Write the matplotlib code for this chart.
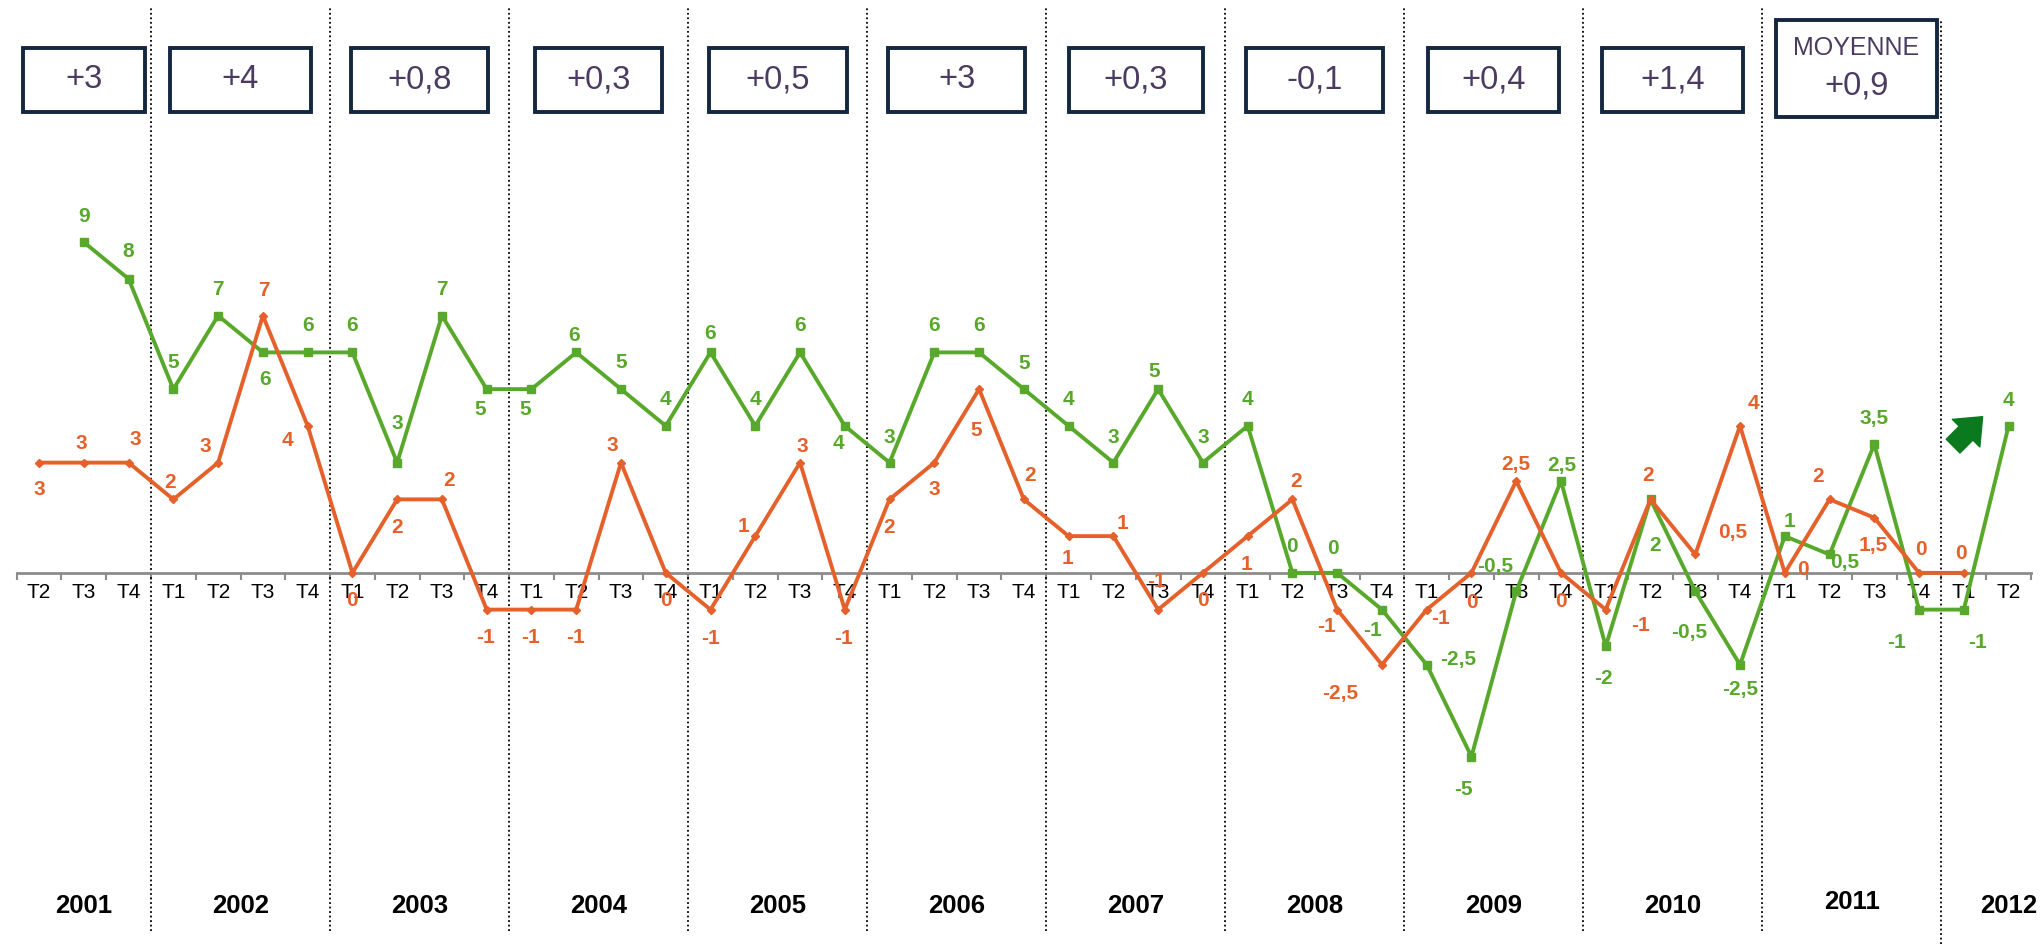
import matplotlib.pyplot as plt
from matplotlib.patches import Rectangle
import numpy as np

# quarters on the x axis (T2 2001 -> T2 2012)
quarters = ['T2', 'T3', 'T4'] + ['T1', 'T2', 'T3', 'T4'] * 10 + ['T1', 'T2']
years = ['2001', '2002', '2003', '2004', '2005', '2006', '2007', '2008', '2009', '2010', '2011', '2012']
year_sizes = [3, 4, 4, 4, 4, 4, 4, 4, 4, 4, 4, 2]

green = [np.nan, 9, 8, 5, 7, 6, 6, 6, 3, 7, 5, 5, 6, 5, 4, 6, 4, 6, 4, 3, 6, 6, 5, 4, 3,
         5, 3, 4, 0, 0, -1, -2.5, -5, -0.5, 2.5, -2, 2, -0.5, -2.5, 1, 0.5, 3.5, -1, -1, 4]
orange = [3, 3, 3, 2, 3, 7, 4, 0, 2, 2, -1, -1, -1, 3, 0, -1, 1, 3, -1, 2, 3, 5, 2, 1, 1,
          -1, 0, 1, 2, -1, -2.5, -1, 0, 2.5, 0, -1, 2, 0.5, 4, 0, 2, 1.5, 0, 0, np.nan]

year_changes = ['+3', '+4', '+0,8', '+0,3', '+0,5', '+3', '+0,3', '-0,1', '+0,4', '+1,4']
average_label = 'MOYENNE'
average_value = '+0,9'

# label offsets in pixels (dx, dy up) for each point
green_off = [None, (0, 26), (0, 27), (0, 27), (0, 26), (2, -27), (0, 27), (0, 27), (0, 39), (0, 26),
             (-6, -20), (-6, -20), (-2, 17), (0, 27), (0, 26), (0, 19), (0, 26), (0, 27), (-6, -18),
             (0, 25), (0, 27), (0, 27), (0, 26), (0, 26), (0, 25), (-4, 18), (0, 25), (0, 26),
             (0, 26), (-4, 24), (-9, -21), (31, 5), (-8, -33), (-21, 25), (1, 16), (-2, -32),
             (5, -46), (-6, -41), (0, -25), (5, 15), (15, -8), (0, 26), (-23, -33), (14, -33), (0, 25)]
orange_off = [(0, -27), (-3, 19), (7, 23), (-3, 17), (-13, 16), (1, 25), (-20, -15), (0, -28),
              (0, -28), (7, 19), (-1, -28), (-1, -28), (-1, -28), (-9, 17), (0, -28), (0, -29),
              (-12, 10), (2, 16), (-1, -29), (0, -28), (0, -27), (-3, -41), (6, 24), (-1, -22),
              (9, 13), (-2, 28), (0, -28), (-1, -28), (4, 18), (-11, -17), (-42, -29), (14, -9),
              (0, -30), (0, 17), (0, -29), (35, -16), (-2, 24), (37, 22), (13, 22), (18, 3),
              (-11, 23), (-1, -28), (2, 23), (-3, 19), None]

GREEN = '#58a82b'
ORANGE = '#e5612b'
NAVY = '#14273f'
TXT = '#4b3b60'

plt.rcParams['font.family'] = ['Liberation Sans', 'DejaVu Sans']


def fmt(v):
    if v == int(v):
        return str(int(v))
    return str(v).replace('.', ',')


x = np.arange(len(quarters))
fig = plt.figure(figsize=(20.42, 9.44), dpi=100)
ax = fig.add_axes([0.00818, 0, 0.98642, 1])
ax.set_xlim(-0.5, len(quarters) - 0.5)
ax.set_ylim(-10.10, 15.59)

for s in ['top', 'left', 'right']:
    ax.spines[s].set_visible(False)
ax.spines['bottom'].set_position(('data', 0))
ax.spines['bottom'].set_color('#8c8c8c')
ax.spines['bottom'].set_linewidth(2)
ax.set_yticks([])
ax.set_xticks(np.arange(-0.5, len(quarters), 1))
ax.set_xticklabels([])
ax.set_xticks(x, quarters, minor=True)
ax.tick_params(axis='x', which='major', length=5, width=1.5, color='#8c8c8c')
ax.tick_params(axis='x', which='minor', length=0, pad=7, labelsize=15)

# dotted year separators
bounds = np.cumsum(year_sizes)[:-1] - 0.5
ax.vlines(bounds[:-1], -9.75, 15.4, colors='black', linestyles=(0, (1, 1.5)), lw=1.3)
ax.vlines(bounds[-1], -10.1, 15.05, colors='black', linestyles=(0, (1, 1.5)), lw=1.3)

ax.plot(x, green, color=GREEN, lw=2.8, marker='s', ms=5.5, zorder=3)
ax.plot(x, orange, color=ORANGE, lw=2.8, marker='D', ms=3.8, zorder=3)

for series, offs, col in [(green, green_off, GREEN), (orange, orange_off, ORANGE)]:
    for i, v in enumerate(series):
        if np.isnan(v):
            continue
        ax.annotate(fmt(v), (i, v), xytext=offs[i], textcoords='offset pixels',
                    ha='center', va='center', fontsize=15, fontweight='bold',
                    color=col, zorder=5)

# year labels and yearly boxes
starts = np.concatenate([[0], np.cumsum(year_sizes)[:-1]])
centers = starts + (np.array(year_sizes) - 1) / 2
box_w = [2.72, 3.15, 3.08, 2.85, 3.08, 3.06, 3.0, 3.07, 2.93, 3.15]
for k, yr in enumerate(years):
    cx = centers[k] if yr != '2012' else 44.0
    cy = -8.95 if yr == '2011' else -9.06
    ax.text(cx, cy, yr, ha='center', va='center', fontsize=18.5, fontweight='bold',
            clip_on=False)

for k, val in enumerate(year_changes):
    cx = centers[k]
    ax.add_patch(Rectangle((cx - box_w[k] / 2, 12.55), box_w[k], 1.74, facecolor='white',
                           edgecolor=NAVY, lw=2.8, zorder=4))
    ax.text(cx, 13.42, val, ha='center', va='center', fontsize=23.5, color=TXT, zorder=5)

cx = 40.6
ax.add_patch(Rectangle((cx - 1.8, 12.41), 3.6, 2.64, facecolor='white',
                       edgecolor=NAVY, lw=2.8, zorder=4))
ax.text(cx, 14.29, average_label, ha='center', va='center', fontsize=18, color=TXT, zorder=5)
ax.text(cx, 13.24, average_value, ha='center', va='center', fontsize=23.5, color=TXT, zorder=5)

# trend arrow
ax.annotate('', xy=(43.42, 4.25), xytext=(42.76, 3.45),
            arrowprops=dict(arrowstyle='simple,head_length=0.6,head_width=1.0,tail_width=0.5',
                            mutation_scale=28, color='#0b7a1e', shrinkA=0, shrinkB=0))

plt.savefig('out.png', dpi=100)
